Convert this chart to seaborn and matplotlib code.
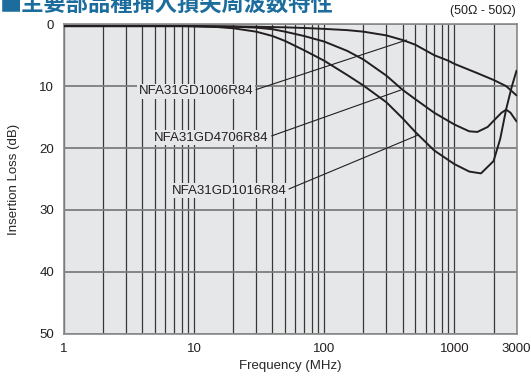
import numpy as np
import pandas as pd
import seaborn as sns
import matplotlib.pyplot as plt
from matplotlib.ticker import FixedLocator, NullFormatter

sns.set_style('white', {'axes.facecolor': '#e6e7e9'})
plt.rcParams['font.family'] = ['Liberation Sans', 'Noto Sans CJK JP', 'DejaVu Sans']

# 周波数 (MHz) と挿入損失 (dB)
freq_1006 = [1, 10, 20, 30, 50, 70, 100, 150, 200, 300, 400, 500, 700, 900, 1000, 1500, 2000, 2500, 3000]
loss_1006 = [0.3, 0.3, 0.35, 0.4, 0.5, 0.6, 0.75, 0.95, 1.2, 1.8, 2.55, 3.3, 5.0, 5.9, 6.4, 7.9, 9.0, 10.0, 11.5]

freq_4706 = [1, 10, 15, 20, 30, 40, 50, 70, 100, 150, 200, 300, 400, 500, 700, 1000, 1300, 1500, 1800, 2000, 2300, 2500, 2700, 3000]
loss_4706 = [0.3, 0.3, 0.35, 0.4, 0.55, 0.8, 1.2, 1.9, 2.8, 4.3, 5.7, 8.3, 10.6, 12.1, 14.3, 16.2, 17.3, 17.4, 16.6, 15.6, 14.3, 13.8, 14.3, 15.7]

freq_1016 = [1, 8, 10, 15, 20, 30, 40, 50, 70, 100, 150, 200, 300, 400, 500, 700, 1000, 1300, 1600, 2000, 2250, 2500, 2750, 3000]
loss_1016 = [0.3, 0.3, 0.35, 0.45, 0.65, 1.2, 1.9, 2.7, 4.2, 5.9, 8.2, 9.9, 12.6, 15.2, 17.4, 20.4, 22.6, 23.8, 24.1, 22.1, 18.5, 13.7, 10.2, 7.5]

parts = ['NFA31GD1006R84', 'NFA31GD4706R84', 'NFA31GD1016R84']

df = pd.concat([
    pd.DataFrame({'freq': freq_1006, 'loss': loss_1006, 'part': parts[0]}),
    pd.DataFrame({'freq': freq_4706, 'loss': loss_4706, 'part': parts[1]}),
    pd.DataFrame({'freq': freq_1016, 'loss': loss_1016, 'part': parts[2]}),
])

fig = plt.figure(figsize=(5.31, 3.76), dpi=100)
ax = fig.add_axes([0.1205, 0.1125, 0.8522, 0.823])

sns.lineplot(data=df, x='freq', y='loss', hue='part', palette={p: '#231f20' for p in parts},
             estimator=None, sort=False, lw=1.4, legend=False, ax=ax, zorder=3)

ax.set_xscale('log')
ax.set_xlim(1, 3000)
ax.set_ylim(50, 0)

ax.xaxis.set_major_locator(FixedLocator([1, 10, 100, 1000, 3000]))
ax.set_xticklabels(['1', '10', '100', '1000', '3000'])
minor = [m * d for d in (1, 10, 100) for m in range(2, 10)] + [2000]
ax.xaxis.set_minor_locator(FixedLocator(minor))
ax.xaxis.set_minor_formatter(NullFormatter())
ax.set_yticks([0, 10, 20, 30, 40, 50])

ax.set_axisbelow(True)
ax.xaxis.grid(True, which='both', color='#383838', lw=0.9)
ax.yaxis.grid(True, color='#7d7d7d', lw=1.3)
ax.tick_params(which='both', length=0, labelsize=9.5, colors='#231f20')
ax.tick_params(axis='y', pad=7)
ax.tick_params(axis='x', pad=7)
for s in ax.spines.values():
    s.set_color('#8a8a8a')
    s.set_linewidth(1.2)

ax.set_xlabel('Frequency (MHz)', fontsize=9.5, labelpad=3)
ax.set_ylabel('Insertion Loss (dB)', fontsize=9.5, labelpad=14)

# ラベルと引き出し線
bg = '#e6e7e9'
leaders = [
    (parts[0], (429, 2.55), (28.5, 10.8)),
    (parts[1], (385, 10.65), (37.5, 18.3)),
    (parts[2], (526, 17.9), (51, 26.9)),
]
for name, xy, xyt in leaders:
    ax.annotate(name, xy=xy, xytext=xyt, ha='right', va='center', fontsize=9.5,
                color='#231f20', zorder=4,
                bbox=dict(fc=bg, ec='none', pad=1),
                arrowprops=dict(arrowstyle='-', lw=0.8, color='#231f20',
                                shrinkA=1, shrinkB=0, relpos=(1, 0.55)))

fig.text(0.0, 0.972, '■主要部品種挿入損失周波数特性', fontsize=16, fontweight='bold',
         color='#1c6d9d', family=['Noto Sans CJK JP'], va='baseline')
fig.text(0.972, 0.955, '(50Ω - 50Ω)', fontsize=9, ha='right', va='bottom', color='#231f20')

fig.savefig('out.png', dpi=100)
